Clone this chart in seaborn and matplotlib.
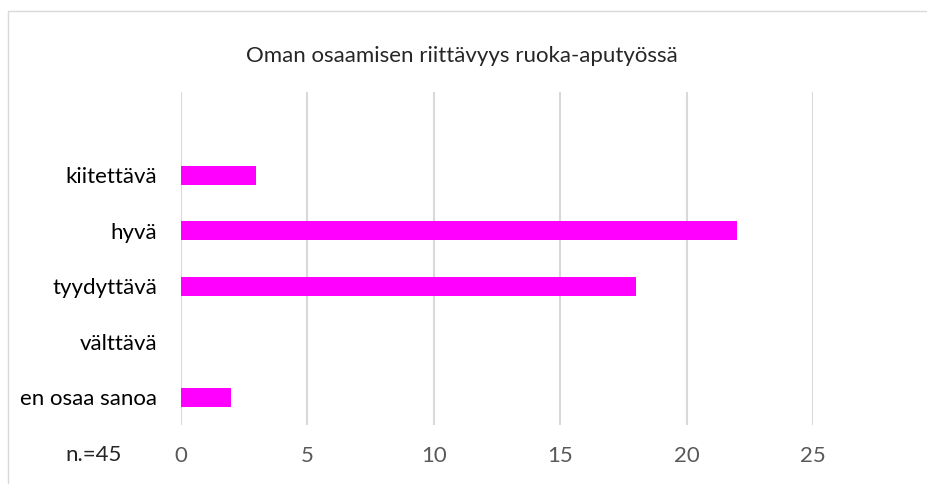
import matplotlib
matplotlib.use("Agg")
import pandas as pd
import seaborn as sns
import matplotlib.pyplot as plt
from matplotlib.lines import Line2D

# data
categories = ["kiitettävä", "hyvä", "tyydyttävä", "välttävä", "en osaa sanoa"]
counts = [3, 22, 18, 0, 2]
x_ticks = [0, 5, 10, 15, 20, 25]
title = "Oman osaamisen riittävyys ruoka-aputyössä"
note = "n.=45"

BAR_COLOR = "#FF00FF"
GRID_COLOR = "#D9D9D9"
TICK_COLOR = "#595959"


def main():
    sns.set_theme(style="white")
    plt.rcParams["font.family"] = ["Lato", "DejaVu Sans"]

    df = pd.DataFrame({"category": categories, "count": counts})

    fig = plt.figure(figsize=(9.28, 4.84), dpi=100)
    ax = fig.add_axes([180.5 / 928, 1 - 425 / 484, (813.3 - 180.5) / 928, (425 - 92) / 484])

    sns.barplot(data=df, y="category", x="count", color=BAR_COLOR, orient="h",
                width=0.35, saturation=1, linewidth=0, ax=ax)

    ax.set_xlim(0, 25)
    ax.set_ylim(len(categories) - 0.5, -1.5)
    ax.set_xticks(x_ticks)
    ax.xaxis.grid(True, color=GRID_COLOR, linewidth=1.5)
    ax.set_axisbelow(True)
    for s in ax.spines.values():
        s.set_visible(False)
    ax.set_xlabel("")
    ax.set_ylabel("")
    ax.tick_params(axis="x", length=0, pad=15, labelsize=16, labelcolor=TICK_COLOR)
    ax.tick_params(axis="y", length=0, pad=17, labelsize=16, labelcolor="#000000")

    fig.text(462 / 928, 1 - 56 / 484, title, ha="center", va="center", fontsize=16)
    fig.text(94 / 928, 1 - 455 / 484, note, ha="center", va="center", fontsize=16)

    # chart-area border, only top and left edges are inside the crop
    y_top = 1 - 10.5 / 484
    x_left = 8.5 / 928
    fig.lines.append(Line2D([x_left, 1.0], [y_top, y_top], transform=fig.transFigure,
                            color=GRID_COLOR, linewidth=1))
    fig.lines.append(Line2D([x_left, x_left], [0.0, y_top], transform=fig.transFigure,
                            color=GRID_COLOR, linewidth=1))

    fig.savefig("out.png", dpi=100)
    plt.close(fig)


if __name__ == "__main__":
    main()
